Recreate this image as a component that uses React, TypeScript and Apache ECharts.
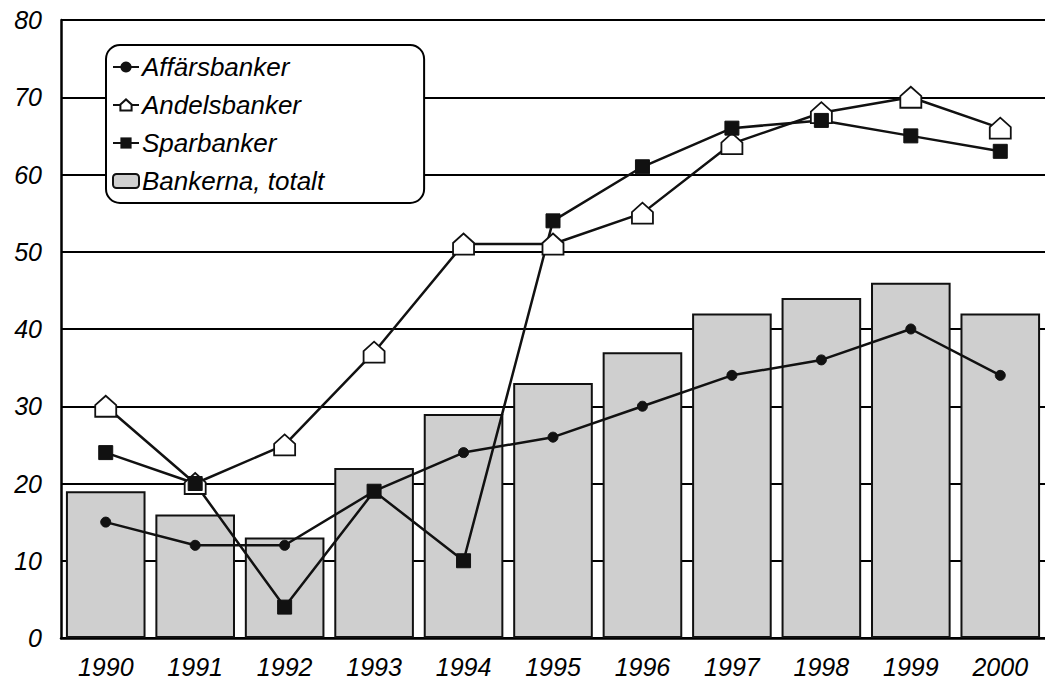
import React, { useEffect, useRef } from "react";
import * as echarts from "echarts";

const years = ["1990", "1991", "1992", "1993", "1994", "1995", "1996", "1997", "1998", "1999", "2000"];
const totalt = [19, 16, 13, 22, 29, 33, 37, 42, 44, 46, 42];
const affars = [15, 12, 12, 19, 24, 26, 30, 34, 36, 40, 34];
const andels = [30, 20, 25, 37, 51, 51, 55, 64, 68, 70, 66];
const spar = [24, 20, 4, 19, 10, 54, 61, 66, 67, 65, 63];

const FONT = "'Liberation Sans', Arial, Helvetica, sans-serif";
const HOUSE = "path://M0,4.5 L5,0 L10,4.5 L10,10 L0,10 Z";

export default function App() {
  const ref = useRef<HTMLDivElement>(null);
  useEffect(() => {
    const chart = echarts.init(ref.current!, null, { renderer: "svg" });
    chart.setOption({
      animation: false,
      backgroundColor: "#ffffff",
      grid: { left: 61, top: 20, width: 990, bottom: 45, containLabel: false },
      legend: {
        orient: "vertical",
        left: 106,
        top: 45,
        padding: [9, 100, 9, 6],
        itemGap: 12,
        itemWidth: 26,
        itemHeight: 14,
        backgroundColor: "#ffffff",
        borderColor: "#000",
        borderWidth: 2,
        borderRadius: 14,
        data: ["Affärsbanker", "Andelsbanker", "Sparbanker", "Bankerna, totalt"],
        textStyle: { fontFamily: FONT, fontStyle: "italic", fontSize: 26, color: "#000", lineHeight: 26, padding: [0, 0, 0, -2] },
      },
      xAxis: {
        type: "category",
        data: years,
        axisTick: { show: false },
        axisLine: { show: true, lineStyle: { color: "#000", width: 2.5 } },
        axisLabel: { fontFamily: FONT, fontStyle: "italic", fontSize: 25, lineHeight: 25, color: "#000", margin: 16 },
      },
      yAxis: {
        type: "value",
        min: 0,
        max: 80,
        interval: 10,
        axisLine: { show: true, lineStyle: { color: "#000", width: 2.5 } },
        axisTick: { show: false },
        splitLine: { show: true, lineStyle: { color: "#000", width: 2 } },
        axisLabel: { fontFamily: FONT, fontStyle: "italic", fontSize: 25, color: "#000", margin: 19 },
      },
      series: [
        {
          name: "Bankerna, totalt",
          type: "bar",
          data: totalt,
          barCategoryGap: "11%",
          itemStyle: { color: "#cfcfcf", borderColor: "#111", borderWidth: 2 },
        },
        {
          name: "Affärsbanker",
          type: "line",
          data: affars,
          symbol: "circle",
          symbolSize: 10,
          lineStyle: { color: "#111", width: 2.5 },
          itemStyle: { color: "#111", borderColor: "#111" },
        },
        {
          name: "Andelsbanker",
          type: "line",
          data: andels,
          symbol: HOUSE,
          symbolSize: [21, 21],
          lineStyle: { color: "#111", width: 2.5 },
          itemStyle: { color: "#ffffff", borderColor: "#111", borderWidth: 1.8 },
        },
        {
          name: "Sparbanker",
          type: "line",
          data: spar,
          symbol: "rect",
          symbolSize: 14,
          lineStyle: { color: "#111", width: 2.5 },
          itemStyle: { color: "#111", borderColor: "#111" },
        },
      ],
    });
    return () => chart.dispose();
  }, []);
  return <div ref={ref} style={{ position: "fixed", left: 0, top: 0, width: 1045, height: 683 }} />;
}
